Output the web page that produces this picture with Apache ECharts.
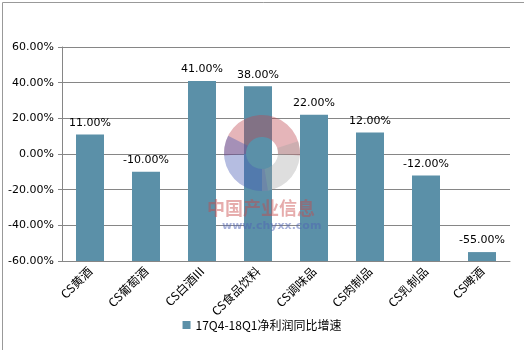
<!DOCTYPE html>
<html><head><meta charset="utf-8">
<script src="https://cdn.jsdelivr.net/npm/echarts@6/dist/echarts.min.js"></script>
<style>html,body{margin:0;padding:0;background:#fff}#c{width:524px;height:350px}</style>
</head><body><div id="c"></div>
<script>
const categories = ['CS黄酒','CS葡萄酒','CS白酒III','CS食品饮料','CS调味品','CS肉制品','CS乳制品','CS啤酒'];
const values = [11, -10, 41, 38, 22, 12, -12, -55];
const seriesName = '17Q4-18Q1净利润同比增速';
const yMin = -60, yMax = 60, yStep = 20;

const chart = echarts.init(document.getElementById('c'));
// bars are drawn from the bottom of the axis (-60%), so values are shifted by -yMin
const shifted = values.map(v => v - yMin);
const P = Math.PI;
chart.setOption({
  animation: false,
  grid: {left: 62, right: 14, top: 47, bottom: 89},
  legend: {
    bottom: 14, left: 'center', itemWidth: 8, itemHeight: 8, itemGap: 4,
    icon: 'rect',
    textStyle: {fontFamily: 'Noto Sans CJK SC', fontSize: 12, color: '#000'},
    data: [seriesName]
  },
  xAxis: {
    type: 'category', data: categories,
    axisLine: {lineStyle: {color: '#868686'}},
    axisTick: {show: false},
    axisLabel: {rotate: 45, interval: 0, margin: 8, color: '#000', fontSize: 12, fontFamily: 'Noto Sans CJK SC'}
  },
  yAxis: {
    type: 'value', min: 0, max: yMax - yMin, interval: yStep,
    axisLine: {show: true, lineStyle: {color: '#868686'}},
    axisTick: {show: true, length: 4, lineStyle: {color: '#868686'}},
    splitLine: {lineStyle: {color: '#868686'}},
    axisLabel: {color: '#000', fontSize: 11, fontFamily: 'DejaVu Sans', margin: 8,
      formatter: v => (v + yMin).toFixed(2) + '%'}
  },
  graphic: [
    {type: 'rect', left: 0, top: 0, shape: {width: 523, height: 349}, style: {fill: 'none', stroke: '#999', lineWidth: 1}, z: 100},
    {type: 'sector', shape: {cx: 262, cy: 153, r: 38, r0: 16, startAngle: -P * 1.02, endAngle: P * 0.02}, style: {fill: 'rgba(190,70,80,0.4)'}, z: 50},
    {type: 'sector', shape: {cx: 262, cy: 153, r: 38, r0: 16, startAngle: P * 0.45, endAngle: P * 1.15}, style: {fill: 'rgba(70,90,180,0.4)'}, z: 50},
    {type: 'sector', shape: {cx: 262, cy: 153, r: 38, r0: 16, startAngle: -P * 0.1, endAngle: P * 0.5}, style: {fill: 'rgba(160,160,160,0.35)'}, z: 50},
    {type: 'text', left: 207, top: 199, style: {text: '中国产业信息', fill: 'rgba(200,70,70,0.45)', font: 'bold 18px "Noto Sans CJK SC"'}, z: 50},
    {type: 'text', left: 222, top: 221, style: {text: 'www.chyxx.com', fill: 'rgba(80,100,180,0.5)', font: 'bold 11px "DejaVu Sans"'}, z: 50}
  ],
  series: [{
    name: seriesName, type: 'bar', data: shifted, barWidth: '50%',
    itemStyle: {color: '#5b90a8'},
    label: {show: true, position: 'top', distance: 6, color: '#000', fontSize: 11, fontFamily: 'DejaVu Sans',
      formatter: p => values[p.dataIndex].toFixed(2) + '%'}
  }]
});
</script></body></html>
